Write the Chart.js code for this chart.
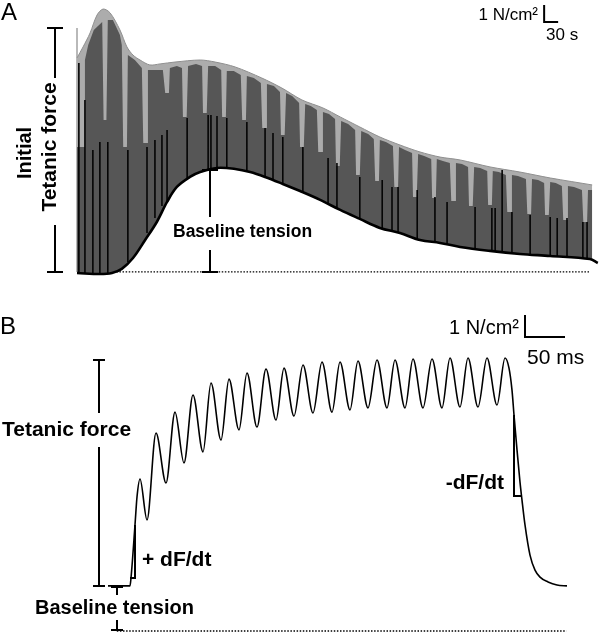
<!DOCTYPE html>
<html><head><meta charset="utf-8">
<script src="https://cdn.jsdelivr.net/npm/chart.js@4/dist/chart.umd.min.js"></script>
<style>html,body{margin:0;padding:0;background:#fff;}canvas{display:block;}</style>
</head><body>
<canvas id="c" width="600" height="632"></canvas>
<script>
// ---------- Panel A : fatigue protocol (time s, force N/cm2) ----------
const aEnvT = [0,13,28,43,56,71,92,107,120,135,156,178,210,264,296,339,396,439,482,527,564,606,649,692,735,778,821,885,949,1014,1104];
const aEnvF = [12.59,13.24,14.06,15.12,15.47,15.24,14.24,13.24,12.76,12.47,12.18,12.24,12.35,12.47,12.35,12.06,11.41,10.82,10.12,9.65,9.12,8.53,7.94,7.47,7.06,6.76,6.59,6.18,5.88,5.53,5.12];
const aDarkT = [0,15,17,24,36,54,57,63,66,77,92,96,99,107,109,124,139,142,150,152,167,184,189,197,199,214,225,227,235,238,255,268,270,278,281,296,309,311,319,321,336,351,354,362,364,379,394,397,405,407,422,435,437,445,448,461,476,478,486,489,501,514,517,525,527,540,553,555,563,566,581,596,598,606,609,624,636,639,647,649,662,677,680,688,690,703,718,720,728,731,744,759,761,769,771,784,799,802,810,812,825,838,840,848,851,864,879,881,889,891,904,919,922,930,932,945,962,965,973,975,988,1001,1003,1011,1014,1026,1039,1042,1050,1052,1065,1082,1085,1093,1095,1104];
const aDarkF = [7.35,7.35,12.47,13.35,14.24,14.71,8.94,8.94,14.82,14.82,13.94,13.35,7.35,7.35,12.76,12.47,12.0,7.59,7.59,11.88,11.88,11.88,10.53,10.53,12.0,12.12,12.0,9.12,9.12,12.12,12.24,12.12,9.35,9.35,12.12,12.12,11.88,9.12,9.12,11.82,11.82,11.59,8.94,8.94,11.53,11.41,11.12,8.47,8.47,11.06,10.94,10.59,8.06,8.06,10.53,10.35,9.94,7.35,7.35,9.88,9.76,9.53,7.06,7.06,9.41,9.29,9.0,6.24,6.24,8.88,8.71,8.35,5.71,5.71,8.29,8.12,7.82,5.35,5.35,7.76,7.65,7.41,5.0,5.0,7.35,7.18,7.0,4.41,4.41,6.94,6.82,6.65,4.35,4.35,6.65,6.53,6.41,4.18,4.18,6.41,6.35,6.18,3.88,3.88,6.18,6.12,5.94,3.94,3.94,5.94,5.88,5.71,3.53,3.53,5.71,5.65,5.47,3.41,3.41,5.47,5.41,5.24,3.35,3.35,5.29,5.24,5.06,3.06,3.06,5.06,5.0,4.82,2.94,2.94,4.82,4.82];
const aBaseT = [0,49,75,96,120,146,171,193,214,242,264,300,339,371,403,441,478,521,564,606,649,692,735,778,821,885,949,1014,1099,1116];
const aBaseF = [-0.06,-0.12,-0.06,0.18,0.82,1.88,2.94,4.12,5.0,5.59,5.88,6.12,6.06,5.88,5.59,5.18,4.76,4.24,3.65,3.12,2.59,2.29,1.88,1.71,1.47,1.24,1.06,0.94,0.76,0.53];
const aSpikeT = [4,17,34,49,66,109,150,167,182,193,236,281,287,300,321,364,403,420,441,484,538,557,606,654,675,688,729,767,793,853,889,896,911,932,971,1014,1029,1050,1084,1093];
const aSpikeLow = [-0.06,-0.06,-0.12,-0.12,-0.06,0.59,2.29,3.18,3.88,4.12,5.53,6.0,6.06,6.12,6.12,5.88,5.59,5.41,5.18,4.71,4.0,3.76,3.12,2.53,2.41,2.35,1.94,1.71,1.59,1.35,1.24,1.24,1.18,1.12,1.0,0.94,0.88,0.88,0.76,0.76];
const aSpikeHigh = [12.29,10.12,7.18,7.65,7.65,7.18,7.35,7.76,8.06,8.35,9.06,9.24,9.24,9.18,9.06,8.82,8.47,8.18,7.94,7.35,6.71,6.41,5.59,5.41,5.0,5.0,4.82,4.41,4.12,3.82,3.76,3.76,6.0,3.53,3.35,3.24,3.18,3.18,2.94,2.94];
const aFirstT = [0,0];
const aFirstF = [0,14.35];
const aZeroT = [71,1099];

// ---------- Panel B : single tetanus (time ms, force N/cm2) ----------
const bT = [0,27.5,28.75,33.75,36.25,40,48.75,60,72.5,83.75,95,106.25,118.75,128.75,141.25,151.25,163.75,173.75,186.25,197.5,210,220,232.5,243.75,256.25,267.5,280,290,302.5,312.5,325,336.25,348.75,358.75,371.25,381.25,393.75,405,417.5,427.5,440,450,462.5,473.75,486.25,496.25,501.25,505,507.5,511.25,515,517.5,521.25,527.5,533.75,540,550,561.25,573.75];
const bF = [2.05,2.05,2.41,4.82,6.09,6.91,5.05,9.0,6.73,9.95,7.64,10.73,8.14,11.27,8.68,11.45,9.14,11.73,9.27,11.91,9.59,11.95,9.77,12.09,9.91,12.23,9.95,12.23,10.05,12.27,10.14,12.32,10.14,12.32,10.14,12.36,10.14,12.36,10.14,12.41,10.18,12.41,10.18,12.41,10.27,12.41,11.95,10.95,9.82,8.23,6.77,5.95,4.82,3.45,2.77,2.45,2.23,2.09,2.05];
const bZeroT = [11,573];

const pts = (xs, ys) => xs.map((x, i) => ({x: x, y: ys[i]}));
const spikePts = [];
aSpikeT.forEach((t, i) => { spikePts.push({x:t,y:aSpikeLow[i]},{x:t,y:aSpikeHigh[i]},{x:t,y:null}); });

const A = {xAxisID:'xa', yAxisID:'ya', pointRadius:0};
const B = {xAxisID:'xb', yAxisID:'yb', pointRadius:0};

const FONT = "'Liberation Sans', Arial, sans-serif";

const annot = {
  id: 'annot',
  afterDraw(chart) {
    const ctx = chart.ctx;
    const s = chart.scales;
    ctx.save();
    ctx.strokeStyle = '#000';
    ctx.fillStyle = '#000';
    ctx.lineCap = 'butt';
    const line = (p, w) => { ctx.lineWidth = w; ctx.beginPath(); ctx.moveTo(p[0][0], p[0][1]); for (let i = 1; i < p.length; i++) ctx.lineTo(p[i][0], p[i][1]); ctx.stroke(); };
    const bracket = (x, yTop, yBot, half, segs, w) => {
      line([[x - half, yTop], [x + half, yTop]], w);
      line([[x - half, yBot], [x + half, yBot]], w);
      segs.forEach(sg => line([[x, sg[0]], [x, sg[1]]], w));
    };
    // Panel A brackets
    bracket(55, 28, 272, 8, [[28,78],[225,272]], 2);
    bracket(210, 170, 272, 8, [[170,217],[250,272]], 2);
    // Panel B brackets
    bracket(99, 360, 586, 6, [[360,413],[447,586]], 2);
    bracket(117, 587, 630, 6, [[587,595],[620,630]], 2);
    line([[130,578],[135,578],[135,525]], 2);
    line([[514,415],[514,496],[522,496]], 2);
    // scale bars from data units
    const xa = s.xa, ya = s.ya, xb = s.xb, yb = s.yb;
    line([[xa.getPixelForValue(1001), ya.getPixelForValue(15.71)], [xa.getPixelForValue(1001), ya.getPixelForValue(14.71)], [xa.getPixelForValue(1031), ya.getPixelForValue(14.71)]], 2);
    line([[xb.getPixelForValue(521.25), yb.getPixelForValue(14.36)], [xb.getPixelForValue(521.25), yb.getPixelForValue(13.36)], [xb.getPixelForValue(571.25), yb.getPixelForValue(13.36)]], 2);

    // texts
    ctx.textBaseline = 'middle';
    ctx.textAlign = 'left';
    ctx.font = '24px ' + FONT;
    ctx.fillText('A', 1, 13);
    ctx.fillText('B', 0, 327);
    ctx.font = '17px ' + FONT;
    ctx.textAlign = 'right';
    ctx.fillText('1 N/cm\u00B2', 538, 15);
    ctx.textAlign = 'left';
    ctx.fillText('30 s', 546, 35);
    ctx.font = '20px ' + FONT;
    ctx.textAlign = 'right';
    ctx.fillText('1 N/cm\u00B2', 519, 328);
    ctx.textAlign = 'left';
    ctx.font = '21px ' + FONT;
    ctx.fillText('50 ms', 527, 358);

    ctx.font = 'bold 17.5px ' + FONT;
    ctx.fillText('Baseline tension', 173, 232);
    ctx.font = 'bold 21px ' + FONT;
    ctx.fillText('Tetanic force', 2, 430);
    ctx.fillText('+ dF/dt', 142, 560);
    ctx.textAlign = 'right';
    ctx.fillText('-dF/dt', 504, 483);
    ctx.textAlign = 'left';
    ctx.font = 'bold 20px ' + FONT;
    ctx.fillText('Baseline tension', 35, 608);

    // rotated labels
    ctx.save();
    ctx.translate(25, 153);
    ctx.rotate(-Math.PI / 2);
    ctx.textAlign = 'center';
    ctx.font = 'bold 20px ' + FONT;
    ctx.fillText('Initial', 0, 0);
    ctx.restore();
    ctx.save();
    ctx.translate(50, 147);
    ctx.rotate(-Math.PI / 2);
    ctx.textAlign = 'center';
    ctx.font = 'bold 21px ' + FONT;
    ctx.fillText('Tetanic force', 0, 0);
    ctx.restore();
    ctx.restore();
  }
};

new Chart(document.getElementById('c'), {
  type: 'line',
  data: {
    datasets: [
      Object.assign({label:'Baseline tension A', data: pts(aBaseT, aBaseF), borderColor:'#000', borderWidth:2.6, tension:0.35, fill:false}, A),
      Object.assign({label:'Spikes', data: spikePts, borderColor:'#050505', borderWidth:1.6, tension:0, fill:false, spanGaps:false}, A),
      Object.assign({label:'Tetani dark', data: pts(aDarkT, aDarkF), borderWidth:0, borderColor:'rgba(0,0,0,0)', backgroundColor:'#565656', tension:0, fill:0}, A),
      Object.assign({label:'Tetani peak', data: pts(aEnvT, aEnvF), borderWidth:1, borderColor:'#8f8f8f', backgroundColor:'#acacac', tension:0.3, fill:0}, A),
      Object.assign({label:'First', data: pts(aFirstT, aFirstF), borderWidth:1.2, borderColor:'#8a8a8a', tension:0, fill:false}, A),
      Object.assign({label:'Zero A', data: pts(aZeroT, [0,0]), borderWidth:1.3, borderColor:'#000', borderDash:[1.5,1.6], tension:0, fill:false}, A),
      Object.assign({label:'Tetanus B', data: pts(bT, bF), borderColor:'#000', borderWidth:1.6, cubicInterpolationMode:'monotone', fill:false}, B),
      Object.assign({label:'Zero B', data: pts(bZeroT, [0,0]), borderWidth:1.3, borderColor:'#000', borderDash:[1.5,1.6], tension:0, fill:false}, B)
    ]
  },
  options: {
    responsive: false,
    animation: false,
    devicePixelRatio: 1,
    layout: {padding: 0},
    plugins: {legend: {display: false}, tooltip: {enabled: false}},
    elements: {point: {radius: 0}},
    scales: {
      xa: {type:'linear', display:false, bounds:'data', min:-165, max:1120.7},
      ya: {type:'linear', display:false, bounds:'data', min:-21.18, max:16.0},
      xb: {type:'linear', display:false, bounds:'data', min:-135, max:615},
      yb: {type:'linear', display:false, bounds:'data', min:-0.045, max:28.68}
    }
  },
  plugins: [annot]
});
</script>
</body></html>
